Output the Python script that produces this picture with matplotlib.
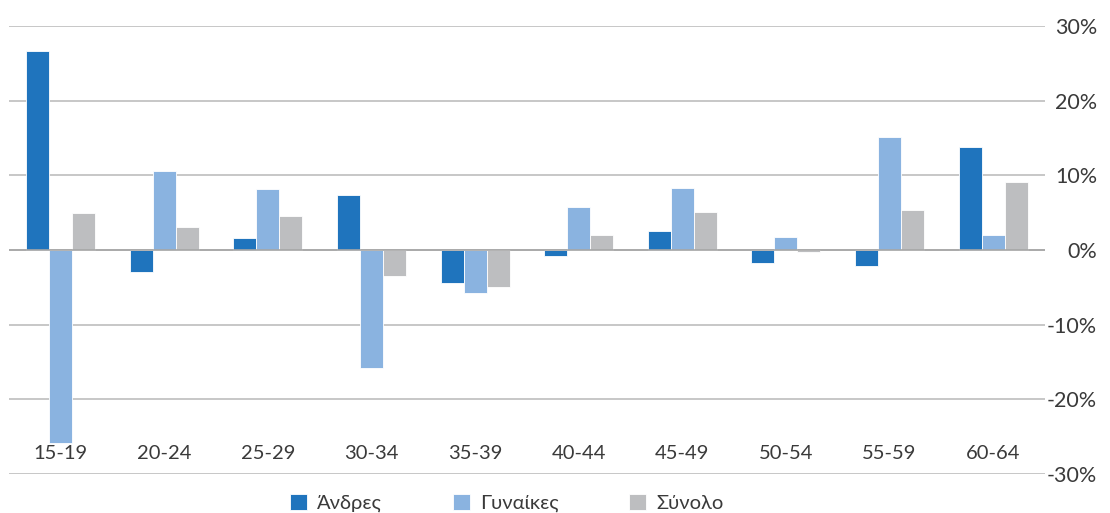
import matplotlib
matplotlib.use("Agg")
import matplotlib.pyplot as plt
import numpy as np
from matplotlib.ticker import FuncFormatter

# Age groups and percentage changes per group
age_groups = ["15-19", "20-24", "25-29", "30-34", "35-39",
              "40-44", "45-49", "50-54", "55-59", "60-64"]
men = [26.6, -3.0, 1.6, 7.4, -4.4, -0.8, 2.5, -1.8, -2.1, 13.8]
women = [-25.8, 10.6, 8.2, -15.8, -5.8, 5.8, 8.3, 1.8, 15.1, 2.0]
total = [4.9, 3.1, 4.5, -3.5, -4.9, 2.0, 5.1, -0.2, 5.3, 9.1]
series_names = ["Άνδρες", "Γυναίκες", "Σύνολο"]
y_ticks = [-30, -20, -10, 0, 10, 20, 30]

colors = ["#1F74BD", "#8AB3E0", "#BDBEC0"]
text_color = "#3a3a3a"
grid_color = "#BDBDBD"

plt.rcParams["font.family"] = ["Lato", "DejaVu Sans"]

fig = plt.figure(figsize=(11.10, 5.13), dpi=100)
ax = fig.add_axes([0.008, 0.076, 0.9334, 0.8733])

x = np.arange(len(age_groups))
width = 0.222
for i, (vals, name) in enumerate(zip([men, women, total], series_names)):
    ax.bar(x + (i - 1) * width, vals, width, color=colors[i], label=name,
           edgecolor="white", linewidth=0.6, zorder=3)

ax.set_xlim(-0.5, len(age_groups) - 0.5)
ax.set_ylim(-30, 30)
ax.set_yticks(y_ticks)
ax.yaxis.set_major_formatter(FuncFormatter(lambda v, p: f"{v:.0f}%"))
ax.yaxis.tick_right()
ax.tick_params(axis="y", length=0, pad=37.5, labelsize=15.5, labelcolor=text_color)
for lbl in ax.get_yticklabels():
    lbl.set_horizontalalignment("right")
ax.grid(axis="y", color=grid_color, linewidth=1.2, zorder=0)
ax.axhline(0, color="#A6A6A6", linewidth=1.2, zorder=4)

ax.set_xticks(x)
ax.set_xticklabels(age_groups)
ax.tick_params(axis="x", length=0, pad=-21, labelsize=14.5, labelcolor=text_color)

for spine in ax.spines.values():
    spine.set_visible(False)

fig.legend(loc="center left", bbox_to_anchor=(290 / 1110, 0.02), ncol=3,
           frameon=False, fontsize=14.5, labelcolor=text_color,
           handlelength=0.85, handleheight=0.85, handletextpad=0.5,
           columnspacing=3.5, borderpad=0, borderaxespad=0)

fig.savefig("out.png", dpi=100)
